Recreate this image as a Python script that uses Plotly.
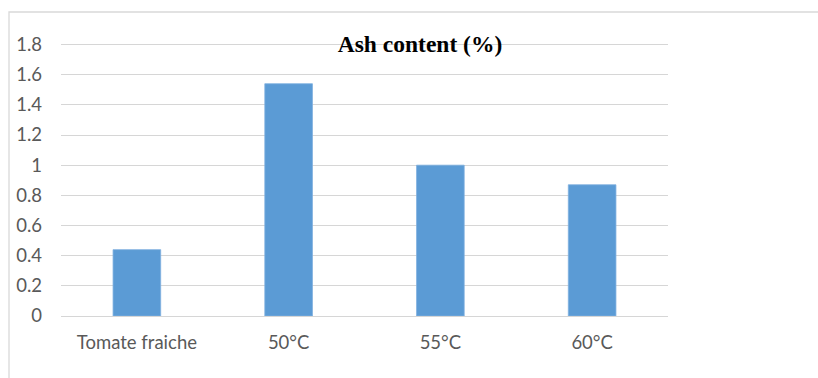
import plotly.graph_objects as go

# Ash content by sample
categories = ["Tomate fraiche", "50°C", "55°C", "60°C"]
ash_content = [0.44, 1.54, 1.00, 0.87]
y_ticks = [0, 0.2, 0.4, 0.6, 0.8, 1, 1.2, 1.4, 1.6, 1.8]
y_tick_labels = ["0", "0.2", "0.4", "0.6", "0.8", "1", "1.2", "1.4", "1.6", "1.8"]

W, H = 818, 378
ML, MR, MT, MB = 61, 150, 43, 62
plot_w = W - ML - MR
plot_h = H - MT - MB


def px_x(px):
    return (px - ML) / plot_w


def px_y(py):
    return (H - MB - py) / plot_h


fig = go.Figure(
    go.Bar(
        x=categories,
        y=ash_content,
        marker=dict(color="#5b9bd5", line=dict(color="#7fb0e0", width=0.8)),
        width=0.314,
    )
)

fig.update_layout(
    width=W,
    height=H,
    margin=dict(l=ML, r=MR, t=MT, b=MB),
    paper_bgcolor="white",
    plot_bgcolor="white",
    showlegend=False,
    font=dict(family="Lato", color="#595959", size=18.5),
    title=dict(
        text="<b>Ash content (%)</b>",
        font=dict(family="Liberation Serif", size=23.5, color="black"),
        x=px_x(420),
        xref="paper",
        xanchor="center",
        y=1 - 44 / H,
        yref="container",
        yanchor="middle",
    ),
    xaxis=dict(
        showgrid=False,
        showline=False,
        ticks="",
        ticklabelstandoff=13,
        tickfont=dict(size=18.5, color="#595959"),
    ),
    yaxis=dict(
        range=[0, 1.81],
        tickvals=y_ticks,
        ticktext=y_tick_labels,
        showgrid=True,
        gridcolor="#d6d6d6",
        gridwidth=1.4,
        zeroline=True,
        zerolinecolor="#d6d6d6",
        zerolinewidth=1.4,
        showline=False,
        ticks="",
        ticklabelstandoff=18,
        tickfont=dict(size=18.5, color="#595959"),
    ),
    shapes=[
        dict(
            type="rect",
            xref="paper",
            yref="paper",
            x0=px_x(9),
            x1=px_x(840),
            y0=px_y(400),
            y1=px_y(12),
            line=dict(color="#d9d9d9", width=1.3),
            fillcolor="rgba(0,0,0,0)",
            layer="below",
        )
    ],
)

fig.write_html("out.html")
